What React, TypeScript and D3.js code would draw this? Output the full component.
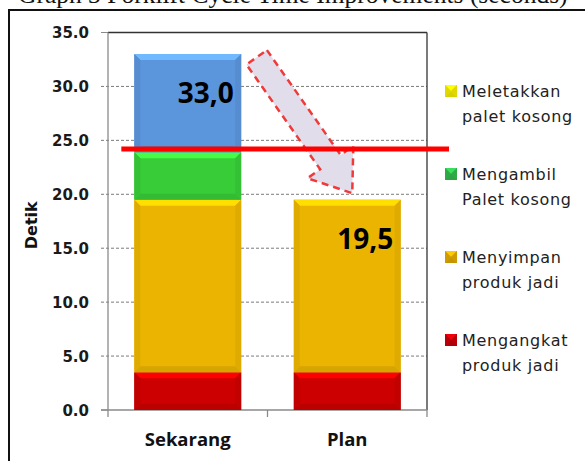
import * as d3 from 'd3';

const categories = ['Sekarang', 'Plan'];
const seriesNames = [
  'Mengangkat produk jadi',
  'Menyimpan produk jadi',
  'Mengambil Palet kosong',
  'Meletakkan palet kosong',
];
const mengangkat = [3.5, 3.5];
const menyimpan = [16.0, 16.0];
const mengambil = [4.4, 0];
const meletakkan = [9.1, 0];
const barColors = ['#cc0000', '#ebb400', '#38cc38', '#5b95dc'];
const legendColors = ['#c2000a', '#d9a300', '#2fb34a', '#ece400'];
const legendLines = [
  ['Mengangkat', 'produk jadi'],
  ['Menyimpan', 'produk jadi'],
  ['Mengambil', 'Palet kosong'],
  ['Meletakkan', 'palet kosong'],
];
const yTicks = [0, 5, 10, 15, 20, 25, 30, 35];
const TARGET = 24.2;
// arrow annotation: from top of Sekarang down to Plan total
const ARROW_FROM = 32.7;
const ARROW_TO = 20.1;

const W = 585;
const H = 461;
const PLOT = { left: 108, right: 427, top: 32.5, bottom: 410 };

const fmtComma = (v: number) => d3.format('.1f')(v).replace('.', ',');

function Bevel({ x, y, w, h, color }: { x: number; y: number; w: number; h: number; color: string }) {
  const b = Math.min(6, h / 2);
  const c = d3.color(color)!;
  const light = c.brighter(0.6).formatHex();
  const dark = c.darker(0.25).formatHex();
  const side = c.darker(0.15).formatHex();
  return (
    <g>
      <rect x={x} y={y} width={w} height={h} fill={color} />
      <polygon points={`${x},${y} ${x + w},${y} ${x + w - b},${y + b} ${x + b},${y + b}`} fill={light} />
      <polygon points={`${x},${y + h} ${x + w},${y + h} ${x + w - b},${y + h - b} ${x + b},${y + h - b}`} fill={dark} />
      <polygon points={`${x},${y} ${x + b},${y + b} ${x + b},${y + h - b} ${x},${y + h}`} fill={side} />
      <polygon points={`${x + w},${y} ${x + w - b},${y + b} ${x + w - b},${y + h - b} ${x + w},${y + h}`} fill={side} />
    </g>
  );
}

export default function App() {
  const y = d3.scaleLinear().domain([0, 35]).range([PLOT.bottom, PLOT.top]);
  const x = d3.scaleBand().domain(categories).range([PLOT.left, PLOT.right]).padding(0);
  const barW = x.bandwidth() * 0.67;
  const barX = (c: string) => (x(c) ?? 0) + (x.bandwidth() - barW) / 2;

  const rows = categories.map((c, i) => ({
    cat: c,
    [seriesNames[0]]: mengangkat[i],
    [seriesNames[1]]: menyimpan[i],
    [seriesNames[2]]: mengambil[i],
    [seriesNames[3]]: meletakkan[i],
  }));
  const stacked = d3.stack<any>().keys(seriesNames)(rows);
  const totals = categories.map((_, i) => mengangkat[i] + menyimpan[i] + mengambil[i] + meletakkan[i]);

  // arrow geometry
  const ax0 = barX(categories[0]) + barW + 15.5;
  const ay0 = y(ARROW_FROM);
  const ax1 = barX(categories[1]) + barW / 2 + 5;
  const ay1 = y(ARROW_TO);
  const len = Math.hypot(ax1 - ax0, ay1 - ay0);
  const ang = (Math.atan2(ay1 - ay0, ax1 - ax0) * 180) / Math.PI;
  const sw = 12.5;
  const hw = 28;
  const hl = 38;
  const arrowPts = [
    [0, -sw],
    [len - hl, -sw],
    [len - hl, -hw],
    [len, 0],
    [len - hl, hw],
    [len - hl, sw],
    [0, sw],
  ]
    .map((p) => p.join(','))
    .join(' ');

  return (
    <svg width={W} height={H} style={{ position: 'absolute', left: 0, top: 0, background: '#fff' }}>
      <text x={18} y={2.5} fontFamily="'Liberation Serif', serif" fontSize={25.5} fill="#111">
        Graph 3 Forklift Cycle Time Improvements (seconds)
      </text>
      <rect x={9} y={10} width={620} height={520} fill="none" stroke="#111" strokeWidth={2} />

      {/* gridlines */}
      {yTicks.slice(1, -1).map((t) => (
        <line key={t} x1={PLOT.left - 7} x2={PLOT.right} y1={y(t)} y2={y(t)} stroke="#7a7a7a" strokeDasharray="3,2" />
      ))}
      {[0, 35].map((t) => (
        <line key={t} x1={PLOT.left - 7} x2={PLOT.left} y1={y(t)} y2={y(t)} stroke="#8a8a8a" />
      ))}
      <line x1={PLOT.left} x2={PLOT.right} y1={PLOT.top} y2={PLOT.top} stroke="#333" strokeWidth={1.3} />
      <line x1={PLOT.right} x2={PLOT.right} y1={PLOT.top} y2={PLOT.bottom} stroke="#333" strokeWidth={1.3} />
      <line x1={PLOT.left} x2={PLOT.left} y1={PLOT.top} y2={PLOT.bottom} stroke="#8a8a8a" strokeWidth={1.3} />
      <line x1={PLOT.left - 7} x2={PLOT.right} y1={PLOT.bottom} y2={PLOT.bottom} stroke="#8a8a8a" strokeWidth={1.3} />
      {[PLOT.left, ...categories.map((c) => (x(c) ?? 0) + x.bandwidth())].map((v, i) => (
        <line key={i} x1={v} x2={v} y1={PLOT.bottom} y2={PLOT.bottom + 7} stroke="#8a8a8a" strokeWidth={1.3} />
      ))}

      {/* y tick labels */}
      {yTicks.map((t) => (
        <text
          key={t}
          x={89}
          y={y(t) + 5.5}
          textAnchor="end"
          fontFamily="'DejaVu Sans', sans-serif"
          fontWeight="bold"
          fontSize={15}
          fill="#1a1a1a"
        >
          {d3.format('.1f')(t)}
        </text>
      ))}
      <text
        transform={`translate(37,${(PLOT.top + PLOT.bottom) / 2 + 4}) rotate(-90)`}
        textAnchor="middle"
        fontFamily="'DejaVu Sans', sans-serif"
        fontWeight="bold"
        fontSize={16}
        fill="#111"
      >
        Detik
      </text>

      {/* bars */}
      {stacked.map((s, si) =>
        s.map((d, ci) => {
          const h = y(d[0]) - y(d[1]);
          if (h <= 0) return null;
          return (
            <Bevel key={`${si}-${ci}`} x={barX(categories[ci])} y={y(d[1])} w={barW} h={h} color={barColors[si]} />
          );
        })
      )}

      {/* arrow */}
      <polygon
        points={arrowPts}
        transform={`translate(${ax0},${ay0}) rotate(${ang})`}
        fill="#e2ddeb"
        stroke="#f03a3a"
        strokeWidth={2.5}
        strokeDasharray="7,5"
      />

      {/* target line */}
      <line
        x1={barX(categories[0]) - 13}
        x2={PLOT.right + 22}
        y1={y(TARGET)}
        y2={y(TARGET)}
        stroke="#ff0000"
        strokeWidth={5}
      />

      {/* totals */}
      {totals.map((t, i) => (
        <text
          key={i}
          x={barX(categories[i]) + barW / 2 + 18}
          y={y(t) + 49}
          textAnchor="middle"
          fontFamily="'Open Sans', sans-serif"
          fontWeight="bold"
          fontSize={28}
          fill="#000"
        >
          {fmtComma(t)}
        </text>
      ))}

      {/* category labels */}
      {categories.map((c) => (
        <text
          key={c}
          x={(x(c) ?? 0) + x.bandwidth() / 2}
          y={446}
          textAnchor="middle"
          fontFamily="'Open Sans', sans-serif"
          fontWeight="bold"
          fontSize={18.5}
          fill="#111"
        >
          {c}
        </text>
      ))}

      {/* legend */}
      {seriesNames
        .map((_, i) => i)
        .reverse()
        .map((si, k) => {
          const base = 97 + k * 83;
          return (
            <g key={si}>
              <Bevel x={445} y={base - 12} w={12} h={12} color={legendColors[si]} />
              {legendLines[si].map((ln, li) => (
                <text
                  key={li}
                  x={462}
                  y={base + li * 24.5}
                  fontFamily="'DejaVu Sans', sans-serif"
                  fontSize={16}
                  letterSpacing={0.7}
                  fill="#222"
                >
                  {ln}
                </text>
              ))}
            </g>
          );
        })}
    </svg>
  );
}
